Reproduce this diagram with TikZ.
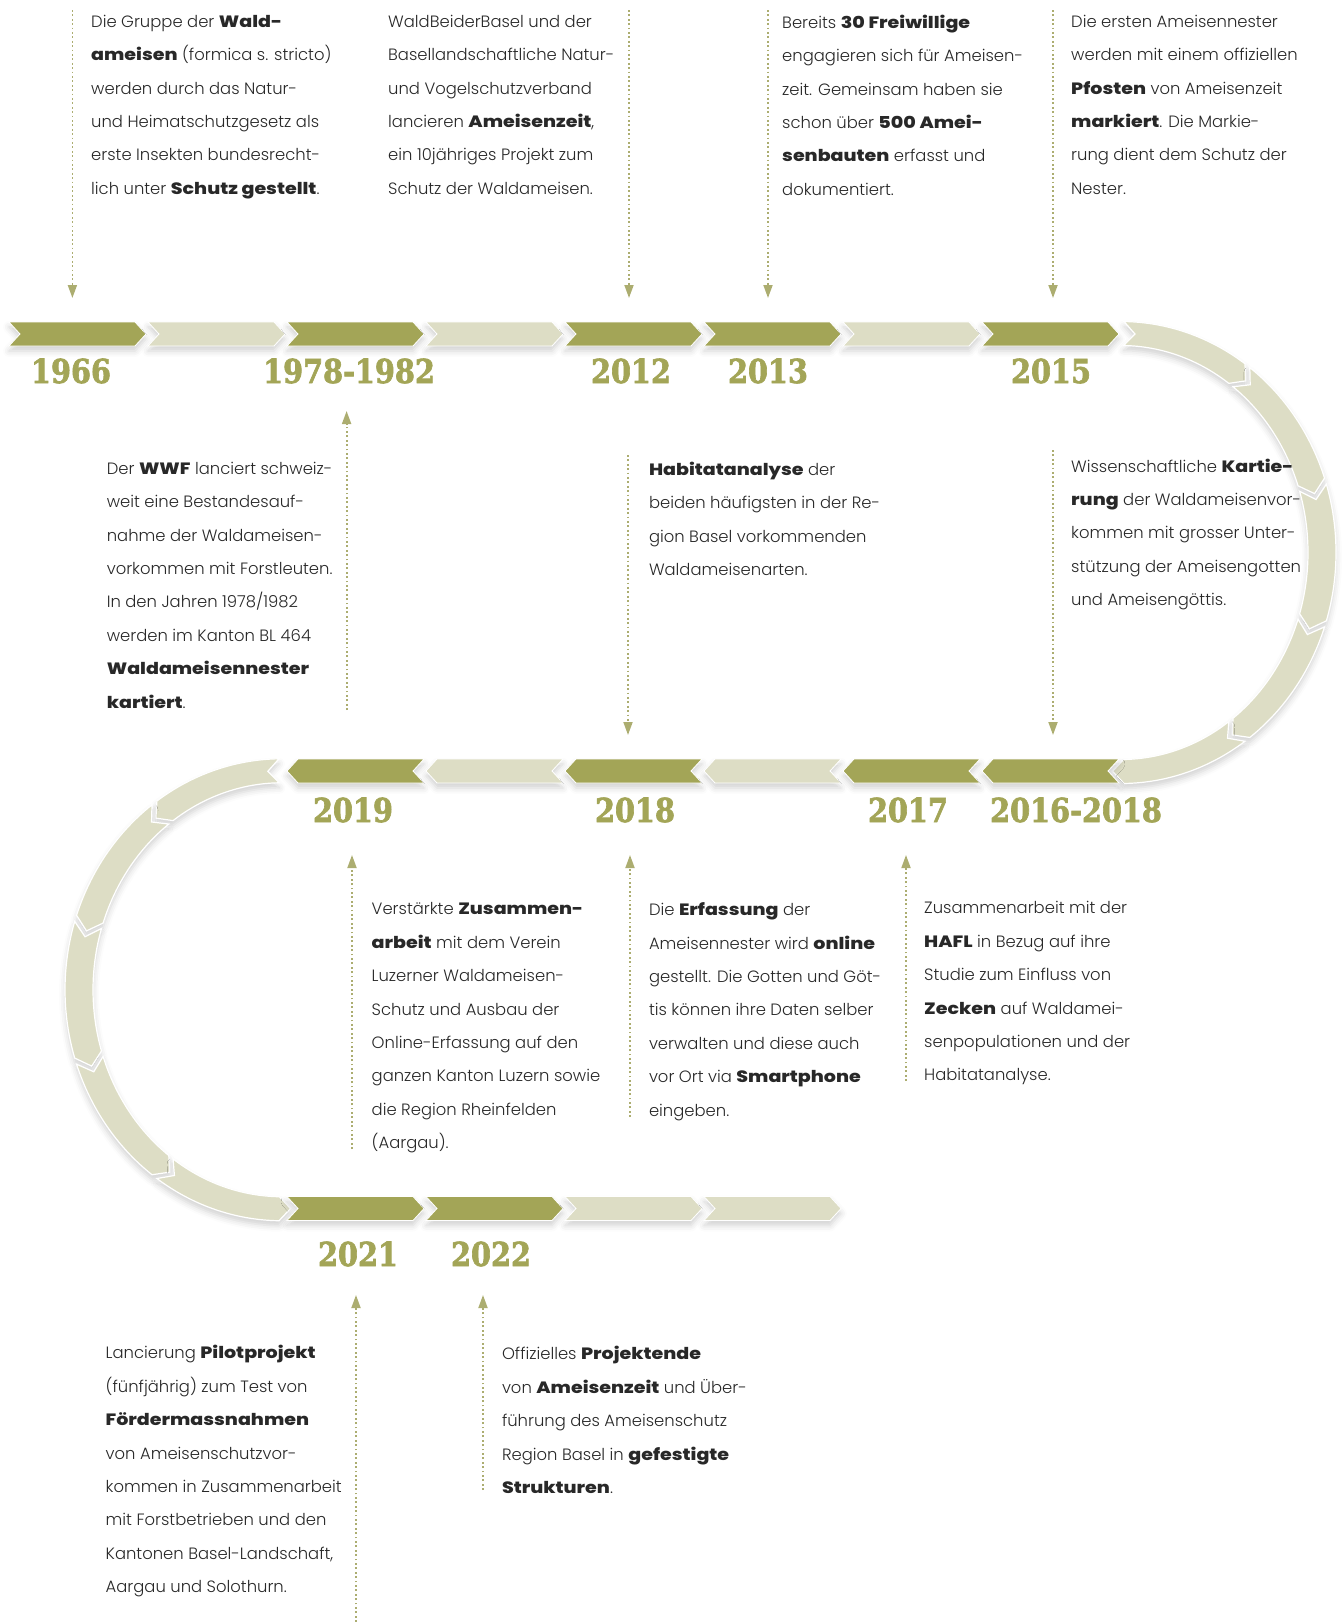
\documentclass[tikz,border=0pt]{standalone}
\usepackage{fontspec}
\setmainfont{Poppins}[UprightFont=* Light, BoldFont=* ExtraBold, BoldFeatures={FakeStretch=1.16}]
\newfontfamily\yearfont{DejaVu Serif}[FakeStretch=0.87, FakeBold=2]
\usepackage{tikz}
\usetikzlibrary{shapes.symbols,arrows.meta,shadows.blur}
\definecolor{olive}{RGB}{163,165,87}
\definecolor{pale}{RGB}{221,221,197}
\definecolor{dots}{RGB}{172,173,112}
\definecolor{ink}{RGB}{40,40,40}

% one arrow piece of a half ring: centre x, centre y, start angle, end angle, tip offset
\newcommand{\ringseg}[5]{%
  \pgfmathsetmacro{\ta}{#3+(#5)}%
  \pgfmathsetmacro{\tb}{#4+(#5)}%
  \path[ring] ({#1+\rxo*cos(#3)},{#2+\ryo*sin(#3)})
     arc[start angle=#3, end angle=#4, x radius=\rxo, y radius=\ryo]
     -- ({#1+\rxm*cos(\tb)},{#2+\rym*sin(\tb)})
     -- ({#1+\rxi*cos(#4)},{#2+\ryi*sin(#4)})
     arc[start angle=#4, end angle=#3, x radius=\rxi, y radius=\ryi]
     -- ({#1+\rxm*cos(\ta)},{#2+\rym*sin(\ta)}) -- cycle;}

\begin{document}
\begin{tikzpicture}[x=1pt, y=-1pt,
    soft/.style={blur shadow={shadow xshift=0pt, shadow yshift=-5pt, shadow blur radius=6pt, shadow opacity=18}},
    chev/.style={signal, signal pointer angle=95, minimum width=137pt, minimum height=24pt,
                 inner sep=0pt, draw=white, line width=0.8pt, soft},
    ring/.style={fill=pale, draw=white, line width=1.2pt, soft},
    year/.style={font=\yearfont\bfseries\fontsize{33}{33}\selectfont, text=olive, inner sep=0pt},
    txt/.style={anchor=north west, inner sep=0pt, align=left, text=ink, font=\fontsize{16.4}{33.4}\selectfont},
    guide/.style={dots, line width=1.8pt, dash pattern=on 1.8pt off 2.6pt, -{Triangle[width=9pt,length=13pt]}}]
    \useasboundingbox (0,0) rectangle (1343,1622);

    % right half ring
    \def\rxo{215}\def\ryo{231}\def\rxi{187}\def\ryi{207}\def\rxm{201}\def\rym{219}
    \foreach \a in {-90,-54,-18,18,54}{
        \ringseg{1121}{552.5}{\a+0.8}{\a+35.2}{3.2}
    }
    % left half ring
    \def\rxo{217}\def\rxi{189}\def\rxm{203}
    \foreach \a in {-90,-126,-162,-198,-234}{
        \ringseg{282}{989.75}{\a-0.8}{\a-35.2}{-3.2}
    }

    % top row
    \foreach \c [count=\i from 0] in {olive,pale,olive,pale,olive,olive,pale,olive}
        \node[chev, fill=\c, signal to=east, signal from=west] (t\i) at ({77.5+139*\i},334) {};
    % middle row, running back
    \foreach \c [count=\i from 2] in {olive,pale,olive,pale,olive,olive}
        \node[chev, fill=\c, signal to=west, signal from=east] (m\i) at ({77.5+139*\i},771) {};
    % bottom row
    \foreach \c [count=\i from 2] in {olive,olive,pale,pale}
        \node[chev, fill=\c, signal to=east, signal from=west] (b\i) at ({77.5+139*\i},1208.5) {};

    % years
    \node[year] (y1966) at (71,371) {1966};
    \node[year] (y1978) at (349,371) {1978-1982};
    \node[year] (y2012) at (631,371) {2012};
    \node[year] (y2013) at (768,371) {2013};
    \node[year] (y2015) at (1051,371) {2015};
    \node[year] (y2019) at (353,810) {2019};
    \node[year] (y2018) at (635,810) {2018};
    \node[year] (y2017) at (908,810) {2017};
    \node[year] (y2016) at (1076,810) {2016-2018};
    \node[year] (y2021) at (358,1254) {2021};
    \node[year] (y2022) at (491,1254) {2022};

    % dotted pointers
    \foreach \n/\x/\ya/\yb in {g1966/72.4/10/298, g2012/629/10/298, g2013/768/10/298, g2015/1053/10/298,
            g1978/346.6/710/411, g2018a/628/455/735, g2016/1053/450/735,
            g2019/352/1149/855, g2018b/630/1117/855, g2017/906/1081/855,
            g2021/356/1622/1295, g2022/483/1490/1295} {
        \coordinate (\n-s) at (\x,\ya);
        \coordinate (\n-e) at (\x,\yb);
        \draw[guide] (\n-s) -- (\n-e);
    }

    % texts
    \node[txt] (b1966) at (91,14.7) {Die Gruppe der \textbf{Wald-}\\\textbf{ameisen} (formica s. stricto)\\werden durch das Natur-\\und Heimatschutzgesetz als\\erste Insekten bundesrecht-\\lich unter \textbf{Schutz gestellt}.};
    \node[txt] (b2012) at (388,14.7) {WaldBeiderBasel und der\\Basellandschaftliche Natur-\\und Vogelschutzverband\\lancieren \textbf{Ameisenzeit},\\ein 10jähriges Projekt zum\\Schutz der Waldameisen.};
    \node[txt] (b2013) at (782,14.7) {Bereits \textbf{30 Freiwillige}\\engagieren sich für Ameisen-\\zeit. Gemeinsam haben sie\\schon über \textbf{500 Amei-}\\\textbf{senbauten} erfasst und\\dokumentiert.};
    \node[txt] (b2015) at (1071,14.7) {Die ersten Ameisennester\\werden mit einem offiziellen\\\textbf{Pfosten} von Ameisenzeit\\\textbf{markiert}. Die Markie-\\rung dient dem Schutz der\\Nester.};
    \node[txt] (b1978) at (106.6,461.7) {Der \textbf{WWF} lanciert schweiz-\\weit eine Bestandesauf-\\nahme der Waldameisen-\\vorkommen mit Forstleuten.\\In den Jahren 1978/1982\\werden im Kanton BL 464\\\textbf{Waldameisennester}\\\textbf{kartiert}.};
    \node[txt] (b2018a) at (648.8,461.7) {\textbf{Habitatanalyse} der\\beiden häufigsten in der Re-\\gion Basel vorkommenden\\Waldameisenarten.};
    \node[txt] (b2016) at (1071,458.6) {Wissenschaftliche \textbf{Kartie-}\\\textbf{rung} der Waldameisenvor-\\kommen mit grosser Unter-\\stützung der Ameisengotten\\und Ameisengöttis.};
    \node[txt] (b2019) at (371.5,902.5) {Verstärkte \textbf{Zusammen-}\\\textbf{arbeit} mit dem Verein\\Luzerner Waldameisen-\\Schutz und Ausbau der\\Online-Erfassung auf den\\ganzen Kanton Luzern sowie\\die Region Rheinfelden\\(Aargau).};
    \node[txt] (b2018b) at (648.8,902.5) {Die \textbf{Erfassung} der\\Ameisennester wird \textbf{online}\\gestellt. Die Gotten und Göt-\\tis können ihre Daten selber\\verwalten und diese auch\\vor Ort via \textbf{Smartphone}\\eingeben.};
    \node[txt] (b2017) at (924,901.4) {Zusammenarbeit mit der\\\textbf{HAFL} in Bezug auf ihre\\Studie zum Einfluss von\\\textbf{Zecken} auf Waldamei-\\senpopulationen und der\\Habitatanalyse.};
    \node[txt] (b2021) at (105.5,1345.3) {Lancierung \textbf{Pilotprojekt}\\(fünfjährig) zum Test von\\\textbf{Fördermassnahmen}\\von Ameisenschutzvor-\\kommen in Zusammenarbeit\\mit Forstbetrieben und den\\Kantonen Basel-Landschaft,\\Aargau und Solothurn.};
    \node[txt] (b2022) at (501.8,1346.4) {Offizielles \textbf{Projektende}\\von \textbf{Ameisenzeit} und Über-\\führung des Ameisenschutz\\Region Basel in \textbf{gefestigte}\\\textbf{Strukturen}.};
\end{tikzpicture}
\end{document}
